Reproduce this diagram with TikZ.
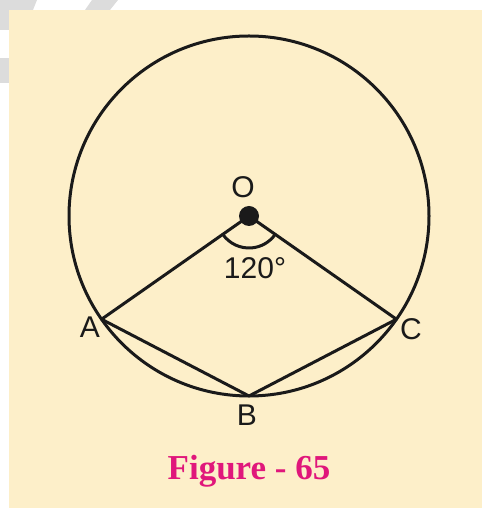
\documentclass[tikz,border=0pt]{standalone}
\usepackage{fontspec}
\setmainfont{Liberation Sans}
\newfontfamily\captionfont{Liberation Serif}
\usepackage{xcolor}
\usepackage{tikz}
\usetikzlibrary{positioning,calc}
\definecolor{PaperCream}{HTML}{FDEFC9}
\definecolor{CaptionPink}{HTML}{E0177B}
\definecolor{InkBlack}{HTML}{1A1A1A}
\definecolor{MarkGray}{HTML}{DCDCDC}

\begin{document}
\begin{tikzpicture}[x=1pt,y=1pt,
    every node/.style={font=\fontsize{30}{30}\selectfont, text=InkBlack, inner sep=0pt},
    edge/.style={draw=InkBlack, line width=3pt, line join=round, line cap=round}]
        \useasboundingbox (0,0) rectangle (482,511);
        % faint marks in the white margin
        \fill[MarkGray] (0,511) -- (37,511) -- (33,501) -- (0,501) -- cycle;
        \fill[MarkGray] (85,501) -- (92,511) -- (118,511) -- (110,501) -- cycle;
        \fill[MarkGray] (0,501) rectangle (9,481);
        \fill[MarkGray] (0,453) rectangle (9,428);
        % paper
        \fill[PaperCream] (9,3) rectangle (482,501);

        \coordinate (O) at (249,295);
        \draw[edge] (O) circle[radius=180pt];
        \foreach \v/\a in {A/215, B/270, C/325}{
        \coordinate (\v) at ($(O)+(\a:180pt)$);
        }
        \draw[edge] (A) -- (O) -- (C) -- (B) -- cycle;
        \draw[edge] ($(O)+(215:32pt)$) arc[start angle=215, end angle=325, radius=32pt];
        \node[circle, fill=InkBlack, minimum size=20pt] (dot) at (O) {};

        \foreach \v/\x/\y in {O/243/324, A/90/184, B/247/96, C/411/182}{
        \node (lbl\v) at (\x,\y) {\v};
        }
        \node (ang) at (255,243) {120°};
        \node[anchor=base, text=CaptionPink, font=\captionfont\bfseries\fontsize{35}{35}\selectfont]
        (cap) at (249,31) {Figure - 65};
      \end{tikzpicture}
\end{document}
